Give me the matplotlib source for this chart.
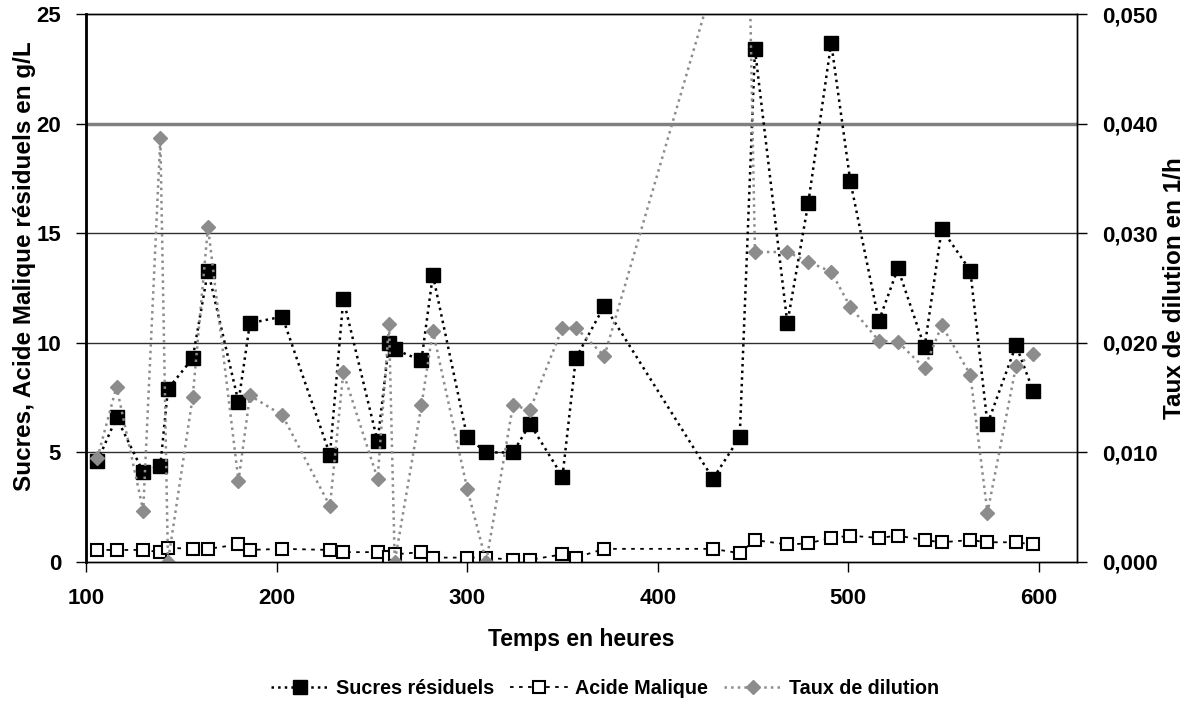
import matplotlib
matplotlib.use("Agg")
from matplotlib import pyplot as plt
from matplotlib.ticker import FuncFormatter
import numpy as np

plt.rcParams['font.family'] = ['Liberation Sans', 'DejaVu Sans']
plt.rcParams['font.weight'] = 'bold'

# Temps en heures
temps = [106, 116, 130, 139, 143, 156, 164, 180, 186, 203, 228, 235, 253, 259, 262,
         276, 282, 300, 310, 324, 333, 350, 357, 372, 429, 443, 451, 468, 479, 491,
         501, 516, 526, 540, 549, 564, 573, 588, 597]

sucres = [4.6, 6.6, 4.1, 4.4, 7.9, 9.3, 13.3, 7.3, 10.9, 11.2, 4.9, 12.0, 5.5, 10.0, 9.7,
          9.2, 13.1, 5.7, 5.0, 5.0, 6.3, 3.9, 9.3, 11.7, 3.8, 5.7, 23.4, 10.9, 16.4, 23.7,
          17.4, 11.0, 13.4, 9.8, 15.2, 13.3, 6.3, 9.9, 7.8]

malique = [0.55, 0.55, 0.55, 0.45, 0.65, 0.6, 0.6, 0.8, 0.55, 0.6, 0.55, 0.45, 0.45, 0.25, 0.35,
           0.45, 0.2, 0.2, 0.2, 0.1, 0.1, 0.35, 0.2, 0.6, 0.6, 0.4, 1.0, 0.8, 0.85, 1.1,
           1.2, 1.1, 1.2, 1.0, 0.9, 1.0, 0.9, 0.9, 0.8]

taux = [0.0095, 0.0160, 0.0047, 0.0387, 0.0, 0.0151, 0.0306, 0.0074, 0.0152, 0.0134, 0.0051,
        0.0173, 0.0076, 0.0217, 0.0, 0.0143, 0.0211, 0.0067, 0.0, 0.0143, 0.0139, 0.0214,
        0.0214, 0.0188, 0.0528, 0.100, 0.0283, 0.0283, 0.0274, 0.0265, 0.0233, 0.0202,
        0.0201, 0.0177, 0.0216, 0.0171, 0.0045, 0.0179, 0.0190]

fig = plt.figure(figsize=(11.93, 7.01), dpi=100)
ax = fig.add_axes([0.0721, 0.1983, 0.9028 - 0.0721, 0.9796 - 0.1983])
ax2 = ax.twinx()

gris = '#8c8c8c'

# grille horizontale
for g in [5, 10, 15]:
    ax.axhline(g, color='#303030', lw=1.0, zorder=0)
ax.axhline(20, color='#808080', lw=2.5, zorder=0)

l1, = ax.plot(temps, sucres, ls=':', color='black', lw=1.8, marker='s', ms=10,
              mfc='black', mec='black', label='Sucres résiduels', zorder=3)
l2, = ax.plot(temps, malique, ls=(0, (2, 3)), color='black', lw=1.3, marker='s', ms=9,
              mfc='white', mec='black', mew=1.5, label='Acide Malique', zorder=3)
l3, = ax2.plot(temps, taux, ls=':', color=gris, lw=1.8, marker='D', ms=7.5,
               mfc=gris, mec=gris, label='Taux de dilution', zorder=2)

ax.set_xlim(100, 620)
ax.set_ylim(0, 25)
ax2.set_ylim(0, 0.05)
ax.set_xticks([100, 200, 300, 400, 500, 600])
ax.set_yticks([0, 5, 10, 15, 20, 25])
ax2.set_yticks([0, 0.01, 0.02, 0.03, 0.04, 0.05])
ax2.yaxis.set_major_formatter(FuncFormatter(lambda v, p: ('%.3f' % v).replace('.', ',')))

for a in (ax, ax2):
    for s in a.spines.values():
        s.set_color('black')
        s.set_linewidth(1.0)
ax.spines['left'].set_linewidth(2.0)

ax.tick_params(axis='x', direction='out', length=7, width=1, pad=12, labelsize=16)
ax.tick_params(axis='y', direction='out', length=7, width=1, pad=11, labelsize=16)
ax2.tick_params(axis='y', direction='out', length=7, width=1, pad=11, labelsize=16)

ax.set_xlabel('Temps en heures', fontsize=16.5, fontweight='bold')
ax.set_ylabel('Sucres, Acide Malique résiduels en g/L', fontsize=17.5, fontweight='bold')
ax2.set_ylabel('Taux de dilution en 1/h', fontsize=17.5, fontweight='bold')
ax.xaxis.set_label_coords(0.4995, -0.12)
ax.yaxis.set_label_coords(-0.0505, 0.54)
ax2.yaxis.set_label_coords(1.087, 0.5)

fig.legend(handles=[l1, l2, l3], loc='center', bbox_to_anchor=(0.507, 0.0185), ncol=3,
           frameon=False, handlelength=3.0, columnspacing=0.8,
           handletextpad=0.3, prop={'weight': 'bold', 'size': 14.2})

fig.savefig('out.png', dpi=100)
